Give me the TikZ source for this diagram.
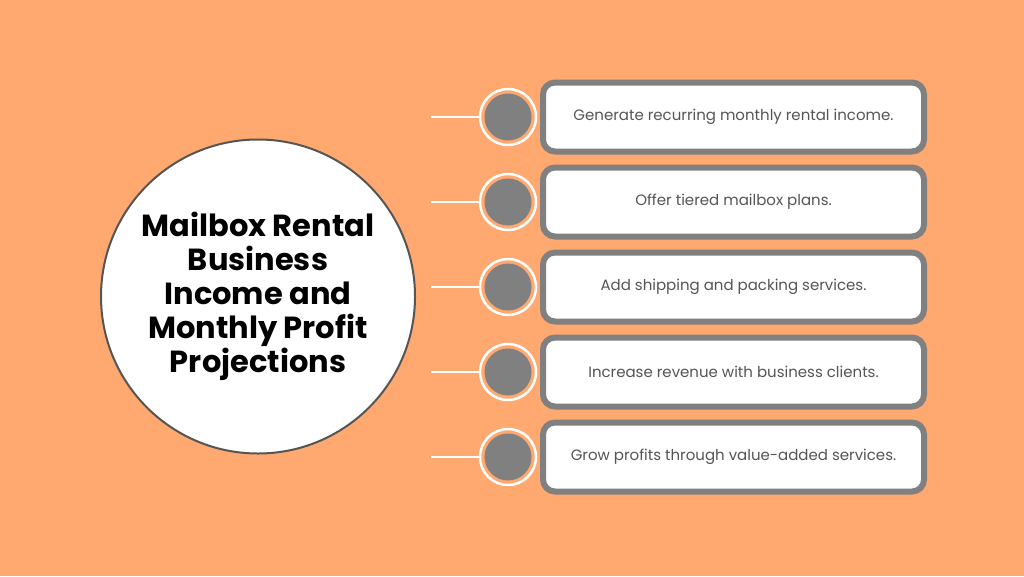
\documentclass[tikz,border=0pt]{standalone}
\usepackage{fontspec}
\setmainfont{Poppins}
\definecolor{peach}{RGB}{255,168,112}
\definecolor{boxgray}{RGB}{128,128,128}
\definecolor{dotgray}{RGB}{128,128,128}
\definecolor{hubline}{RGB}{85,85,85}
\definecolor{textgray}{RGB}{85,85,85}

\begin{document}
\begin{tikzpicture}[
x=1pt,y=-1pt,
hub/.style={
	circle,
	draw=hubline,
	line width=2pt,
	fill=white,
	minimum size=314pt,
	inner sep=0pt,
	align=center,
	font=\fontsize{30.5}{34}\selectfont\bfseries
},
item/.style={
	draw=boxgray,
	line width=6pt,
	fill=white,
	rounded corners=12pt,
	minimum width=381pt,
	minimum height=69pt,
	text=textgray,
	font=\fontsize{15}{18}\selectfont
},
ring/.style={
	circle,
	draw=white,
	line width=2.5pt,
	minimum size=56pt,
	inner sep=0pt
},
dot/.style={
	circle,
	fill=dotgray,
	minimum size=47pt,
	inner sep=0pt
},
stub/.style={
	white,
	line width=1.5pt
}
]
\useasboundingbox[fill=peach] (0,0) rectangle (1024,576);

\node[hub] (hub) at (258,296.5) {Mailbox Rental\\Business\\Income and\\Monthly Profit\\Projections};

\foreach \i/\y/\l in {1/117/Generate recurring monthly rental income.,
2/202/Offer tiered mailbox plans.,
3/287/Add shipping and packing services.,
4/372/Increase revenue with business clients.,
5/457/Grow profits through value-added services.}
{
\node[item] (box\i) at (733.5,\y) {\l};
\node[ring] (ring\i) at (508,\y) {};
\node[dot] (dot\i) at (508,\y) {};
\coordinate (tip\i) at (431,\y);
\draw[stub] (tip\i) -- (ring\i.west);
}

\end{tikzpicture}
\end{document}
